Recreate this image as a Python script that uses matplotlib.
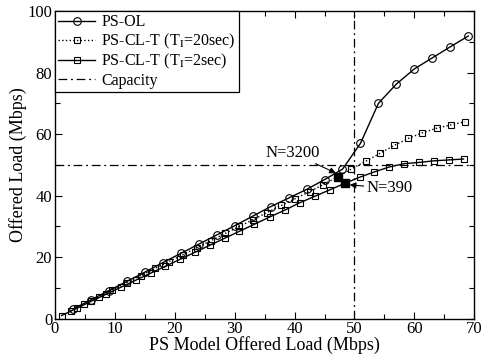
import matplotlib
matplotlib.use('Agg')
import matplotlib.pyplot as plt
from matplotlib.ticker import MultipleLocator

plt.rcParams['font.family'] = ['Liberation Serif', 'DejaVu Serif']
plt.rcParams['mathtext.fontset'] = 'stix'

# PS-OL (open loop)
ol_x = [3, 6, 9, 12, 15, 18, 21, 24, 27, 30, 33, 36, 39, 42, 45, 48, 51, 54, 57, 60, 63, 66, 69]
ol_y = [3.1, 6.1, 9.1, 12.1, 15.1, 18.2, 21.2, 24.2, 27.2, 30.2, 33.3, 36.4, 39.2, 42.0, 45.2,
        48.6, 57.0, 70.0, 76.3, 81.2, 84.8, 88.4, 91.9]

# PS-CL-T, T_I = 20 sec
cl20_x = [2.6, 4.9, 7.3, 9.6, 12.0, 14.3, 16.7, 19.0, 21.4, 23.7, 26.1, 28.4, 30.8, 33.1, 35.4,
          37.8, 40.1, 42.5, 44.8, 47.2, 49.5, 51.9, 54.3, 56.6, 59.0, 61.3, 63.7, 66.1, 68.4]
cl20_y = [2.5, 4.8, 7.1, 9.4, 11.7, 14.0, 16.3, 18.5, 20.8, 23.1, 25.4, 27.7, 30.0, 32.2, 34.5,
          36.8, 39.0, 41.3, 43.6, 46.1, 48.7, 51.2, 53.8, 56.3, 58.6, 60.4, 61.9, 63.0, 64.0]

# PS-CL-T, T_I = 2 sec
cl2_x = [1.1, 3.6, 6.0, 8.5, 11.0, 13.5, 16.0, 18.4, 20.9, 23.4, 25.9, 28.4, 30.8, 33.3, 35.9,
         38.4, 40.9, 43.4, 45.9, 48.4, 50.9, 53.3, 55.8, 58.3, 60.8, 63.2, 65.7, 68.2]
cl2_y = [1.0, 3.3, 5.6, 7.9, 10.2, 12.5, 14.8, 17.0, 19.3, 21.6, 23.9, 26.2, 28.4, 30.7, 33.1,
         35.3, 37.7, 39.8, 41.9, 44.0, 46.0, 47.7, 49.3, 50.4, 50.8, 51.3, 51.6, 51.9]

capacity = 50
n3200 = (47.2, 46.1)
n390 = (48.4, 44.0)

fig = plt.figure(figsize=(4.82, 3.58), dpi=100)
ax = fig.add_axes([0.114, 0.110, 0.870, 0.859])

mk = dict(mfc='none', mec='k', mew=0.8, color='k')
ax.plot(ol_x, ol_y, '-', marker='o', ms=5.5, lw=1.0, label='PS-OL', **mk)
ax.plot(cl20_x, cl20_y, ':', marker='s', ms=4.5, lw=1.0, label='PS-CL-T (T$_\\mathrm{I}$=20sec)', **mk)
ax.plot(cl2_x, cl2_y, '-', marker='s', ms=4.5, lw=1.0, label='PS-CL-T (T$_\\mathrm{I}$=2sec)', **mk)
ax.axhline(capacity, color='k', ls=(0, (7, 3, 1.5, 3)), lw=0.9, label='Capacity')
ax.axvline(capacity, color='k', ls=(0, (7, 3, 1.5, 3)), lw=0.9)

ax.plot(*n3200, 's', color='k', ms=5.5, zorder=5)
ax.plot(*n390, 's', color='k', ms=5.5, zorder=5)

arrow = dict(arrowstyle='-|>', color='k', lw=0.8, mutation_scale=9, shrinkA=0, shrinkB=0)
ax.annotate('N=3200', xy=(46.9, 47.3), xytext=(44.2, 51.3), fontsize=12,
            ha='right', va='bottom', arrowprops=arrow)
ax.annotate('N=390', xy=(49.2, 43.5), xytext=(52.0, 42.4), fontsize=12,
            ha='left', va='center', arrowprops=arrow)

ax.set_xlim(0, 70)
ax.set_ylim(0, 100)
ax.xaxis.set_major_locator(MultipleLocator(10))
ax.xaxis.set_minor_locator(MultipleLocator(5))
ax.yaxis.set_major_locator(MultipleLocator(20))
ax.yaxis.set_minor_locator(MultipleLocator(10))
ax.tick_params(which='both', direction='in', top=True, right=True, labelsize=12, width=0.8)
ax.tick_params(which='major', length=5, pad=2)
ax.tick_params(which='minor', length=3.5)
for s in ax.spines.values():
    s.set_linewidth(1.0)

ax.set_xlabel('PS Model Offered Load (Mbps)', fontsize=13, labelpad=-1)
ax.set_ylabel('Offered Load (Mbps)', fontsize=13, labelpad=0)

leg = ax.legend(loc='upper left', fontsize=11.5, borderaxespad=0, frameon=True, fancybox=False,
                edgecolor='k', framealpha=1, handlelength=2.3, handletextpad=0.4,
                labelspacing=0.08, borderpad=0.2)
leg.get_frame().set_linewidth(0.9)

fig.savefig('out.png', dpi=100)
